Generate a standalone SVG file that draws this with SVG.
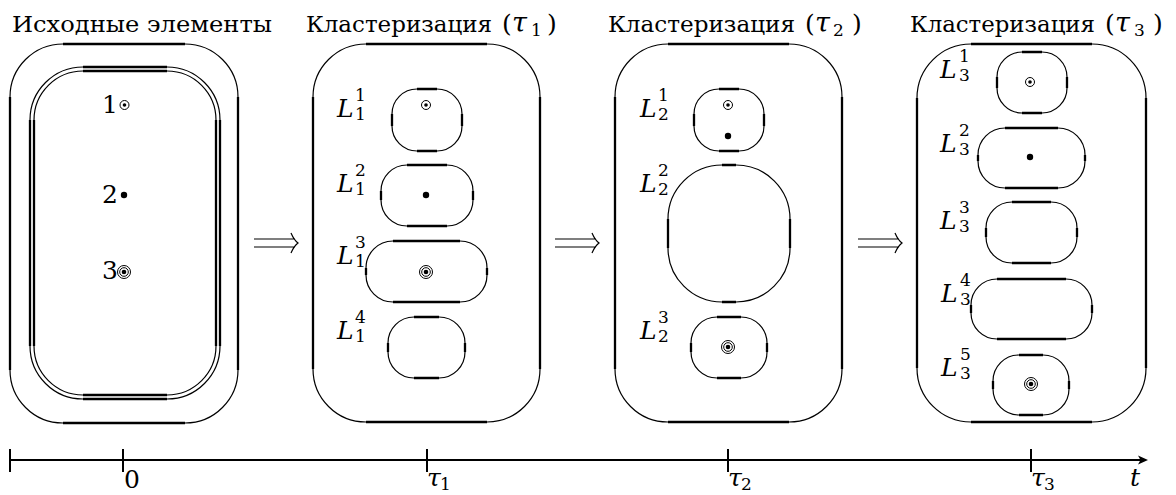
<svg xmlns="http://www.w3.org/2000/svg" width="1176" height="495" viewBox="0 0 1176 495" font-family="DejaVu Serif, Liberation Serif, serif">
<style>
.thin{fill:none;stroke:#000;stroke-width:1.2}
.thick{fill:none;stroke:#000;stroke-width:2.3}
.txt{font-family:"DejaVu Serif","Liberation Serif",serif;font-size:25px;fill:#000}
.ttl{font-family:"DejaVu Serif","Liberation Serif",serif;font-size:22.5px;fill:#000}
.it{font-family:"DejaVu Serif","Liberation Serif",serif;font-style:italic;font-size:25px;fill:#000}
.scr{font-family:"DejaVu Serif","Liberation Serif",serif;font-size:17px;fill:#000}
.ax{stroke:#000;stroke-width:2;fill:none}
.arr{stroke:#000;stroke-width:1.2;fill:none}
</style>
<defs>
<g id="pt1"><circle r="4.5" fill="none" stroke="#000" stroke-width="1"/><circle r="1.8" fill="#000"/></g>
<g id="pt2"><circle r="3.2" fill="#000"/></g>
<g id="pt3"><circle r="6.5" fill="none" stroke="#000" stroke-width="1"/><circle r="4.3" fill="none" stroke="#000" stroke-width="1"/><circle r="2.3" fill="#000"/></g>
</defs>
<rect width="1176" height="495" fill="#fff"/>

<!-- Titles -->
<g id="titles">
<text class="ttl" x="12" y="32" textLength="260" lengthAdjust="spacingAndGlyphs">Исходные элементы</text>
<text class="ttl" x="306" y="32" textLength="186" lengthAdjust="spacingAndGlyphs">Кластеризация</text>
<text class="txt" y="32"><tspan x="502">(</tspan><tspan x="512" font-style="italic" font-size="27">τ</tspan><tspan x="531" y="36" font-size="17">1</tspan><tspan x="547" y="32">)</tspan></text>
<text class="ttl" x="608" y="32" textLength="187" lengthAdjust="spacingAndGlyphs">Кластеризация</text>
<text class="txt" y="32"><tspan x="805">(</tspan><tspan x="815" font-style="italic" font-size="27">τ</tspan><tspan x="833" y="36" font-size="17">2</tspan><tspan x="852" y="32">)</tspan></text>
<text class="ttl" x="910" y="32" textLength="185" lengthAdjust="spacingAndGlyphs">Кластеризация</text>
<text class="txt" y="32"><tspan x="1105">(</tspan><tspan x="1115" font-style="italic" font-size="27">τ</tspan><tspan x="1134" y="36" font-size="17">3</tspan><tspan x="1153" y="32">)</tspan></text>
</g>

<!-- Panel 1 -->
<g id="panel1">
<rect class="thin" x="10" y="44" width="228" height="379" rx="53"/>
<path class="thick" d="M63 44H185M63 423H185M10 97V370M238 97V370"/>
<rect class="thin" x="30" y="67" width="190" height="332" rx="53"/>
<path class="thick" d="M83 67H167M83 399H167M30 120V346M220 120V346"/>
<rect class="thin" x="34" y="71" width="182" height="324" rx="49"/>
<path class="thick" d="M83 71H167M83 395H167M34 120V346M216 120V346"/>
</g>
<g id="element1"><text class="txt" x="102" y="113">1</text><use href="#pt1" x="124.5" y="105"/></g>
<g id="element2"><text class="txt" x="102" y="203">2</text><use href="#pt2" x="124" y="195"/></g>
<g id="element3"><text class="txt" x="102" y="279">3</text><use href="#pt3" x="124" y="272"/></g>

<!-- Panel 2 -->
<g id="panel2">
<rect class="thin" x="313" y="44" width="227" height="378" rx="53"/>
<path class="thick" d="M366 44H487M366 422H487M313 97V369M540 97V369"/>
</g>
<g id="L1_1">
<rect class="thin" x="392" y="89" width="70" height="62" rx="25"/>
<path class="thick" d="M417 89H437M417 151H437M392 114V126M462 114V126"/>
<use href="#pt1" x="426" y="105"/>
<text class="it" x="337" y="117">L</text><text class="scr" x="355" y="101">1</text><text class="scr" x="355" y="120">1</text>
</g>
<g id="L1_2">
<rect class="thin" x="381" y="165" width="92" height="61" rx="26"/>
<path class="thick" d="M407 165H447M407 226H447M381 191V200M473 191V200"/>
<use href="#pt2" x="426" y="195"/>
<text class="it" x="337" y="192">L</text><text class="scr" x="355" y="176">2</text><text class="scr" x="355" y="195">1</text>
</g>
<g id="L1_3">
<rect class="thin" x="366" y="241" width="121" height="61" rx="27"/>
<path class="thick" d="M393 241H460M393 302H460M366 268V275M487 268V275"/>
<use href="#pt3" x="426" y="272"/>
<text class="it" x="337" y="264">L</text><text class="scr" x="355" y="248">3</text><text class="scr" x="355" y="267">1</text>
</g>
<g id="L1_4">
<rect class="thin" x="388" y="317" width="77" height="61" rx="26"/>
<path class="thick" d="M414 317H439M414 378H439M388 343V352M465 343V352"/>
<text class="it" x="337" y="339">L</text><text class="scr" x="355" y="323">4</text><text class="scr" x="355" y="342">1</text>
</g>

<!-- Panel 3 -->
<g id="panel3">
<rect class="thin" x="615" y="44" width="227" height="378" rx="53"/>
<path class="thick" d="M668 44H789M668 422H789M615 97V369M842 97V369"/>
</g>
<g id="L2_1">
<rect class="thin" x="694" y="89" width="70" height="62" rx="25"/>
<path class="thick" d="M719 89H739M719 151H739M694 114V126M764 114V126"/>
<use href="#pt1" x="728" y="105"/>
<use href="#pt2" x="728" y="136"/>
<text class="it" x="640" y="117">L</text><text class="scr" x="658" y="101">1</text><text class="scr" x="658" y="120">2</text>
</g>
<g id="L2_2">
<rect class="thin" x="668" y="165" width="122" height="137" rx="54"/>
<path class="thick" d="M722 165H736M722 302H736M668 219V248M790 219V248"/>
<text class="it" x="640" y="192">L</text><text class="scr" x="658" y="176">2</text><text class="scr" x="658" y="195">2</text>
</g>
<g id="L2_3">
<rect class="thin" x="691" y="317" width="76" height="61" rx="26"/>
<path class="thick" d="M717 317H741M717 378H741M691 343V352M767 343V352"/>
<use href="#pt3" x="728" y="347"/>
<text class="it" x="640" y="339">L</text><text class="scr" x="658" y="323">3</text><text class="scr" x="658" y="342">2</text>
</g>

<!-- Panel 4 -->
<g id="panel4">
<rect class="thin" x="917" y="44" width="229" height="378" rx="54"/>
<path class="thick" d="M971 44H1092M971 422H1092M917 98V368M1146 98V368"/>
</g>
<g id="L3_1">
<rect class="thin" x="997" y="52" width="70" height="61" rx="25"/>
<path class="thick" d="M1022 52H1042M1022 113H1042M997 77V88M1067 77V88"/>
<use href="#pt1" x="1030" y="82"/>
<text class="it" x="940" y="78">L</text><text class="scr" x="959" y="62">1</text><text class="scr" x="959" y="81">3</text>
</g>
<g id="L3_2">
<rect class="thin" x="978" y="128" width="107" height="60" rx="27"/>
<path class="thick" d="M1005 128H1058M1005 188H1058M978 155V161M1085 155V161"/>
<use href="#pt2" x="1030" y="157"/>
<text class="it" x="940" y="152">L</text><text class="scr" x="959" y="136">2</text><text class="scr" x="959" y="155">3</text>
</g>
<g id="L3_3">
<rect class="thin" x="986" y="202" width="91" height="61" rx="26"/>
<path class="thick" d="M1012 202H1051M1012 263H1051M986 228V237M1077 228V237"/>
<text class="it" x="940" y="229">L</text><text class="scr" x="959" y="213">3</text><text class="scr" x="959" y="232">3</text>
</g>
<g id="L3_4">
<rect class="thin" x="971" y="279" width="121" height="60" rx="26"/>
<path class="thick" d="M997 279H1066M997 339H1066M971 305V313M1092 305V313"/>
<text class="it" x="941" y="302">L</text><text class="scr" x="960" y="286">4</text><text class="scr" x="960" y="305">3</text>
</g>
<g id="L3_5">
<rect class="thin" x="993" y="355" width="76" height="60" rx="26"/>
<path class="thick" d="M1019 355H1043M1019 415H1043M993 381V389M1069 381V389"/>
<use href="#pt3" x="1031" y="384"/>
<text class="it" x="941" y="376">L</text><text class="scr" x="960" y="360">5</text><text class="scr" x="960" y="379">3</text>
</g>

<!-- Connectors -->
<g id="connectors">
<path class="arr" d="M254 239H295M254 247H295M291 233Q294 240 298 243Q294 246 291 253"/>
<path class="arr" d="M555 239H596M555 247H596M592 233Q595 240 599 243Q595 246 592 253"/>
<path class="arr" d="M858 239H899M858 247H899M895 233Q898 240 902 243Q898 246 895 253"/>
</g>

<!-- Timeline -->
<g id="timeline">
<path class="ax" d="M10 460H1142M10 449V472M123 449V472M427 449V472M728 449V472M1031 449V472"/>
<path d="M1148 460L1138 455.5L1140.5 460L1138 464.5Z" fill="#000"/>
<text class="txt" x="124" y="488">0</text>
<text class="it" x="427" y="486">τ</text><text class="scr" x="440" y="490">1</text>
<text class="it" x="728" y="486">τ</text><text class="scr" x="741" y="490">2</text>
<text class="it" x="1031" y="486">τ</text><text class="scr" x="1044" y="490">3</text>
<text class="it" x="1130" y="486">t</text>
</g>
</svg>
